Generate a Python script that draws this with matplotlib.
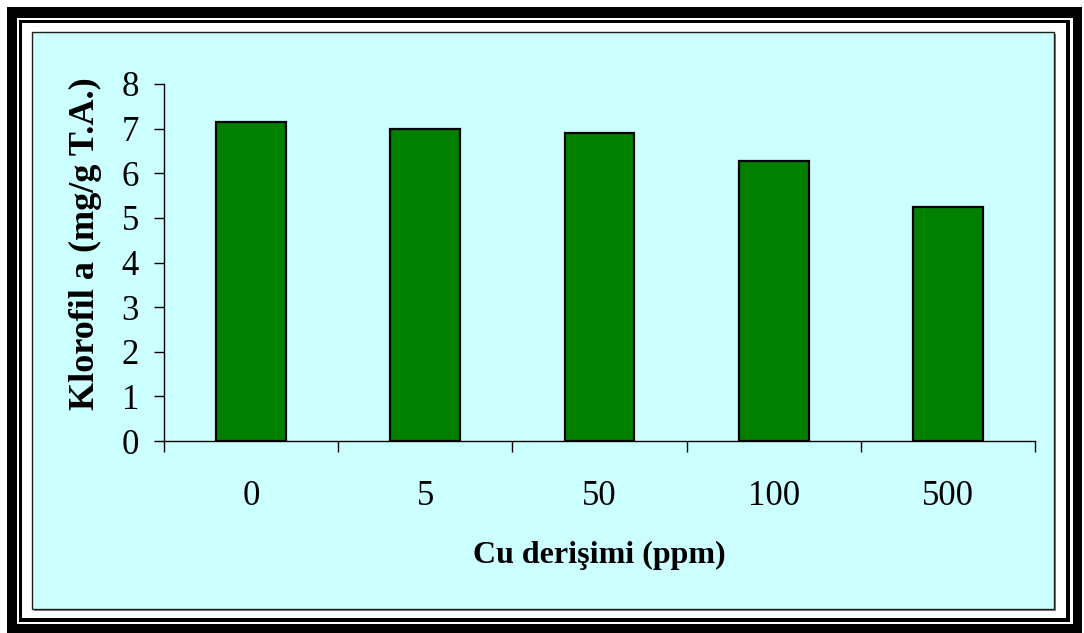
import matplotlib
matplotlib.use("Agg")
import matplotlib.pyplot as plt
from matplotlib.patches import Rectangle

plt.rcParams['font.family'] = ['Liberation Serif', 'DejaVu Serif']

categories = ["0", "5", "50", "100", "500"]
values = [7.15, 7.0, 6.9, 6.28, 5.25]
yticks = [0, 1, 2, 3, 4, 5, 6, 7, 8]

W, H = 1084, 633
fig = plt.figure(figsize=(W / 100, H / 100), dpi=100)
fig.patch.set_facecolor("white")


def box(x0, y0, x1, y1, **kw):
    # pixel box, origin top-left
    r = Rectangle((x0 / W, 1 - y1 / H), (x1 - x0) / W, (y1 - y0) / H,
                  transform=fig.transFigure, zorder=-10, **kw)
    fig.patches.append(r)


# double frame
box(7, 7, 1082, 640, facecolor="black", edgecolor="none")
box(17, 18, 1073, 624, facecolor="white", edgecolor="none")
box(19, 20, 1070, 622, facecolor="black", edgecolor="none")
box(22, 23, 1066, 618, facecolor="white", edgecolor="none")
# shadow + plot area
box(34, 34, 1056, 611, facecolor="#808080", edgecolor="none")
box(32, 32, 1054, 609, facecolor="#CCFFFF", edgecolor="#202020", linewidth=1)

ax = fig.add_axes([164 / W, 1 - 441 / H, (1035 - 164) / W, (441 - 84) / H])
ax.set_facecolor("none")
ax.set_zorder(5)

x = list(range(len(categories)))
ax.bar(x, values, width=0.4, color="#008000", edgecolor="black", linewidth=1.6, zorder=3)

ax.set_xlim(-0.5, len(categories) - 0.5)
ax.set_ylim(0, 8)
ax.set_yticks(yticks)
ax.set_yticklabels([str(t) for t in yticks], fontsize=25)
ax.set_xticks(x)
ax.set_xticklabels(categories, fontsize=25)
ax.set_xticks([i - 0.5 for i in range(len(categories) + 1)], minor=True)
ax.tick_params(axis="x", which="major", length=0, pad=28)
ax.tick_params(axis="x", which="minor", length=8, width=1, direction="out")
ax.tick_params(axis="y", length=7, width=1, direction="out", pad=11)

for s in ["top", "right"]:
    ax.spines[s].set_visible(False)
for s in ["left", "bottom"]:
    ax.spines[s].set_linewidth(1)

ax.set_ylabel("Klorofil a (mg/g T.A.)", fontsize=26, fontweight="bold")
ax.yaxis.set_label_coords(-0.0907, 0.552)
ax.set_xlabel("Cu derişimi (ppm)", fontsize=23, fontweight="bold")
ax.xaxis.set_label_coords(0.5, -0.32)
ax.xaxis.label.set_va("center")
ax.yaxis.label.set_va("center")

fig.savefig("out.png", dpi=100)
